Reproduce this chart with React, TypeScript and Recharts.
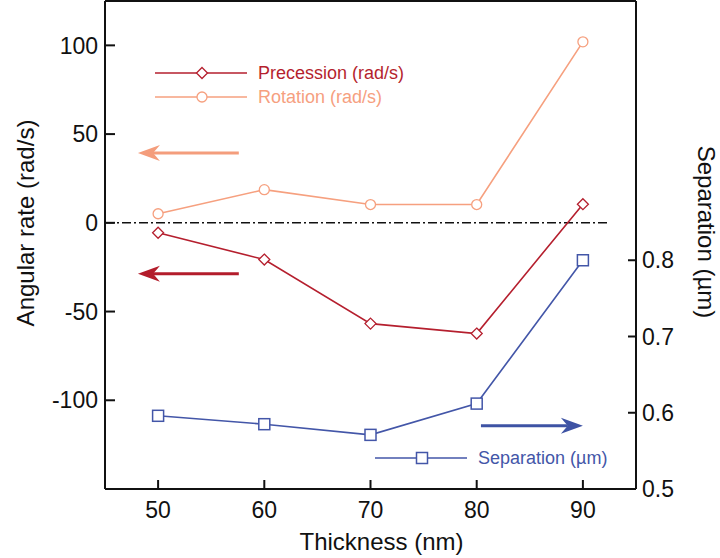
import { LineChart, Line, XAxis, YAxis, ReferenceLine, Label } from 'recharts'

// Thickness (nm) on x
const thickness = [50, 60, 70, 80, 90]
// left axis, rad/s
const precession = [-5.6, -20.7, -56.8, -62.4, 10.5]
const rotation = [5.1, 18.7, 10.3, 10.3, 102]
// right axis, µm
const separation = [0.596, 0.585, 0.571, 0.612, 0.8]

const xTicks = [50, 60, 70, 80, 90]
const rateTicks = [-100, -50, 0, 50, 100]
const sepTicks = [0.5, 0.6, 0.7, 0.8]

// arrows pointing at the axis each series belongs to (data units)
const rotationArrow = { from: 57.6, to: 48.1, y: 39.4 }
const precessionArrow = { from: 57.6, to: 48.1, y: -28.7 }
const separationArrow = { from: 80.4, to: 90, y: 0.583 }

const data = thickness.map((t, i) => ({
  t,
  precession: precession[i],
  rotation: rotation[i],
  separation: separation[i],
}))

const RED = '#b51f2e'
const SALMON = '#f6a07f'
const BLUE = '#4356a8'
const FONT = '"Liberation Sans", Arial, Helvetica, sans-serif'

function Arrow(props: any) {
  const { x1, y1, x2, y2, color } = props
  const dir = x2 > x1 ? 1 : -1
  const len = 22
  const half = 8
  const notch = 15
  return (
    <g>
      <line x1={x1} y1={y1} x2={x2 - dir * notch} y2={y2} stroke={color} strokeWidth={3} />
      <path
        d={`M${x2},${y2} L${x2 - dir * len},${y2 - half} Q${x2 - dir * (notch + 2)},${y2 - 2} ${x2 - dir * notch},${y2} Q${x2 - dir * (notch + 2)},${y2 + 2} ${x2 - dir * len},${y2 + half} Z`}
        fill={color}
      />
    </g>
  )
}

function Diamond({ cx, cy, stroke }: any) {
  const s = 5.5
  return (
    <polygon
      points={`${cx},${cy - s} ${cx + s},${cy} ${cx},${cy + s} ${cx - s},${cy}`}
      fill="#fff"
      stroke={stroke}
      strokeWidth={1.3}
    />
  )
}

function Square({ cx, cy, stroke }: any) {
  const s = 5.5
  return <rect x={cx - s} y={cy - s} width={2 * s} height={2 * s} fill="#fff" stroke={stroke} strokeWidth={1.5} />
}

function Circle({ cx, cy, stroke }: any) {
  return <circle cx={cx} cy={cy} r={5} fill="#fff" stroke={stroke} strokeWidth={1.3} />
}

function LegendRow({ left, top, color, label, Marker }: any) {
  return (
    <div style={{ position: 'absolute', left, top, display: 'flex', alignItems: 'center', gap: 11 }}>
      <svg width={92} height={14}>
        <line x1={0} y1={7} x2={92} y2={7} stroke={color} strokeWidth={1.6} />
        <Marker cx={47} cy={7} stroke={color} />
      </svg>
      <span style={{ color, fontSize: 18, lineHeight: '14px' }}>{label}</span>
    </div>
  )
}

const tickStyle = { fontSize: 23, fill: '#111', fontFamily: FONT }
const axisLine = { stroke: '#111', strokeWidth: 2 }

export default function App() {
  return (
    <div style={{ position: 'absolute', left: 0, top: 0, width: 720, height: 558, background: '#fff', fontFamily: FONT }}>
      <LineChart width={720} height={558} data={data} margin={{ top: 0, right: 0, bottom: 0, left: 0 }}>
        <XAxis
          dataKey="t"
          type="number"
          domain={[45, 95]}
          ticks={xTicks}
          allowDataOverflow
          height={69}
          tick={tickStyle}
          tickSize={-9}
          tickMargin={22}
          axisLine={axisLine}
          tickLine={axisLine}
        >
          <Label
            content={({ viewBox }: any) => (
              <text
                x={viewBox.x + viewBox.width / 2 + 11}
                y={550}
                textAnchor="middle"
                fontSize={24}
                fill="#111"
                fontFamily={FONT}
              >
                Thickness (nm)
              </text>
            )}
          />
        </XAxis>
        {/* top frame */}
        <XAxis
          xAxisId="top"
          dataKey="t"
          type="number"
          orientation="top"
          domain={[45, 95]}
          ticks={xTicks}
          allowDataOverflow
          height={1}
          tick={false}
          tickSize={-10}
          axisLine={axisLine}
          tickLine={axisLine}
        />
        <YAxis
          yAxisId="rate"
          type="number"
          domain={[-150, 125]}
          ticks={rateTicks}
          allowDataOverflow
          width={105}
          tick={tickStyle}
          tickSize={-10}
          tickMargin={17}
          axisLine={axisLine}
          tickLine={axisLine}
        >
          <Label
            content={({ viewBox }: any) => {
              const cx = viewBox.x + 25
              const cy = 223
              return (
                <text
                  x={cx}
                  y={cy}
                  textAnchor="middle"
                  dominantBaseline="central"
                  transform={`rotate(-90, ${cx}, ${cy})`}
                  fontSize={24}
                  fill="#111"
                  fontFamily={FONT}
                >
                  Angular rate (rad/s)
                </text>
              )
            }}
          />
        </YAxis>
        <YAxis
          yAxisId="sep"
          orientation="right"
          type="number"
          domain={[0.5, 1.14]}
          ticks={sepTicks}
          allowDataOverflow
          width={84}
          tick={tickStyle}
          tickSize={-8}
          tickMargin={14}
          tickFormatter={(v: number) => v.toFixed(1)}
          axisLine={axisLine}
          tickLine={axisLine}
        >
          <Label
            content={({ viewBox }: any) => {
              const cx = viewBox.x + 70
              const cy = 232
              return (
                <text
                  x={cx}
                  y={cy}
                  textAnchor="middle"
                  dominantBaseline="central"
                  transform={`rotate(90, ${cx}, ${cy})`}
                  fontSize={24}
                  fill="#111"
                  fontFamily={FONT}
                >
                  Separation (µm)
                </text>
              )
            }}
          />
        </YAxis>

        <ReferenceLine
          yAxisId="rate"
          segment={[{ x: 45, y: 0 }, { x: 92.4, y: 0 }]}
          stroke="#111"
          strokeWidth={1.6}
          strokeDasharray="9 3 2 3"
        />
        <ReferenceLine
          yAxisId="rate"
          segment={[{ x: rotationArrow.from, y: rotationArrow.y }, { x: rotationArrow.to, y: rotationArrow.y }]}
          shape={(p: any) => <Arrow {...p} color="#f49d7c" />}
        />
        <ReferenceLine
          yAxisId="rate"
          segment={[{ x: precessionArrow.from, y: precessionArrow.y }, { x: precessionArrow.to, y: precessionArrow.y }]}
          shape={(p: any) => <Arrow {...p} color="#b31c2b" />}
        />
        <ReferenceLine
          yAxisId="sep"
          segment={[{ x: separationArrow.from, y: separationArrow.y }, { x: separationArrow.to, y: separationArrow.y }]}
          shape={(p: any) => <Arrow {...p} color="#3e53a4" />}
        />

        <Line
          yAxisId="rate"
          dataKey="rotation"
          type="linear"
          stroke={SALMON}
          strokeWidth={1.6}
          isAnimationActive={false}
          dot={(p: any) => <Circle key={`r${p.index}`} {...p} stroke={SALMON} />}
        />
        <Line
          yAxisId="rate"
          dataKey="precession"
          type="linear"
          stroke={RED}
          strokeWidth={1.6}
          isAnimationActive={false}
          dot={(p: any) => <Diamond key={`p${p.index}`} {...p} stroke={RED} />}
        />
        <Line
          yAxisId="sep"
          dataKey="separation"
          type="linear"
          stroke={BLUE}
          strokeWidth={1.6}
          isAnimationActive={false}
          dot={(p: any) => <Square key={`s${p.index}`} {...p} stroke={BLUE} />}
        />
      </LineChart>

      <LegendRow left={155} top={66} color={RED} label="Precession (rad/s)" Marker={Diamond} />
      <LegendRow left={155} top={90} color={SALMON} label="Rotation (rad/s)" Marker={Circle} />
      <LegendRow left={375} top={451} color={BLUE} label="Separation (µm)" Marker={Square} />
    </div>
  )
}
